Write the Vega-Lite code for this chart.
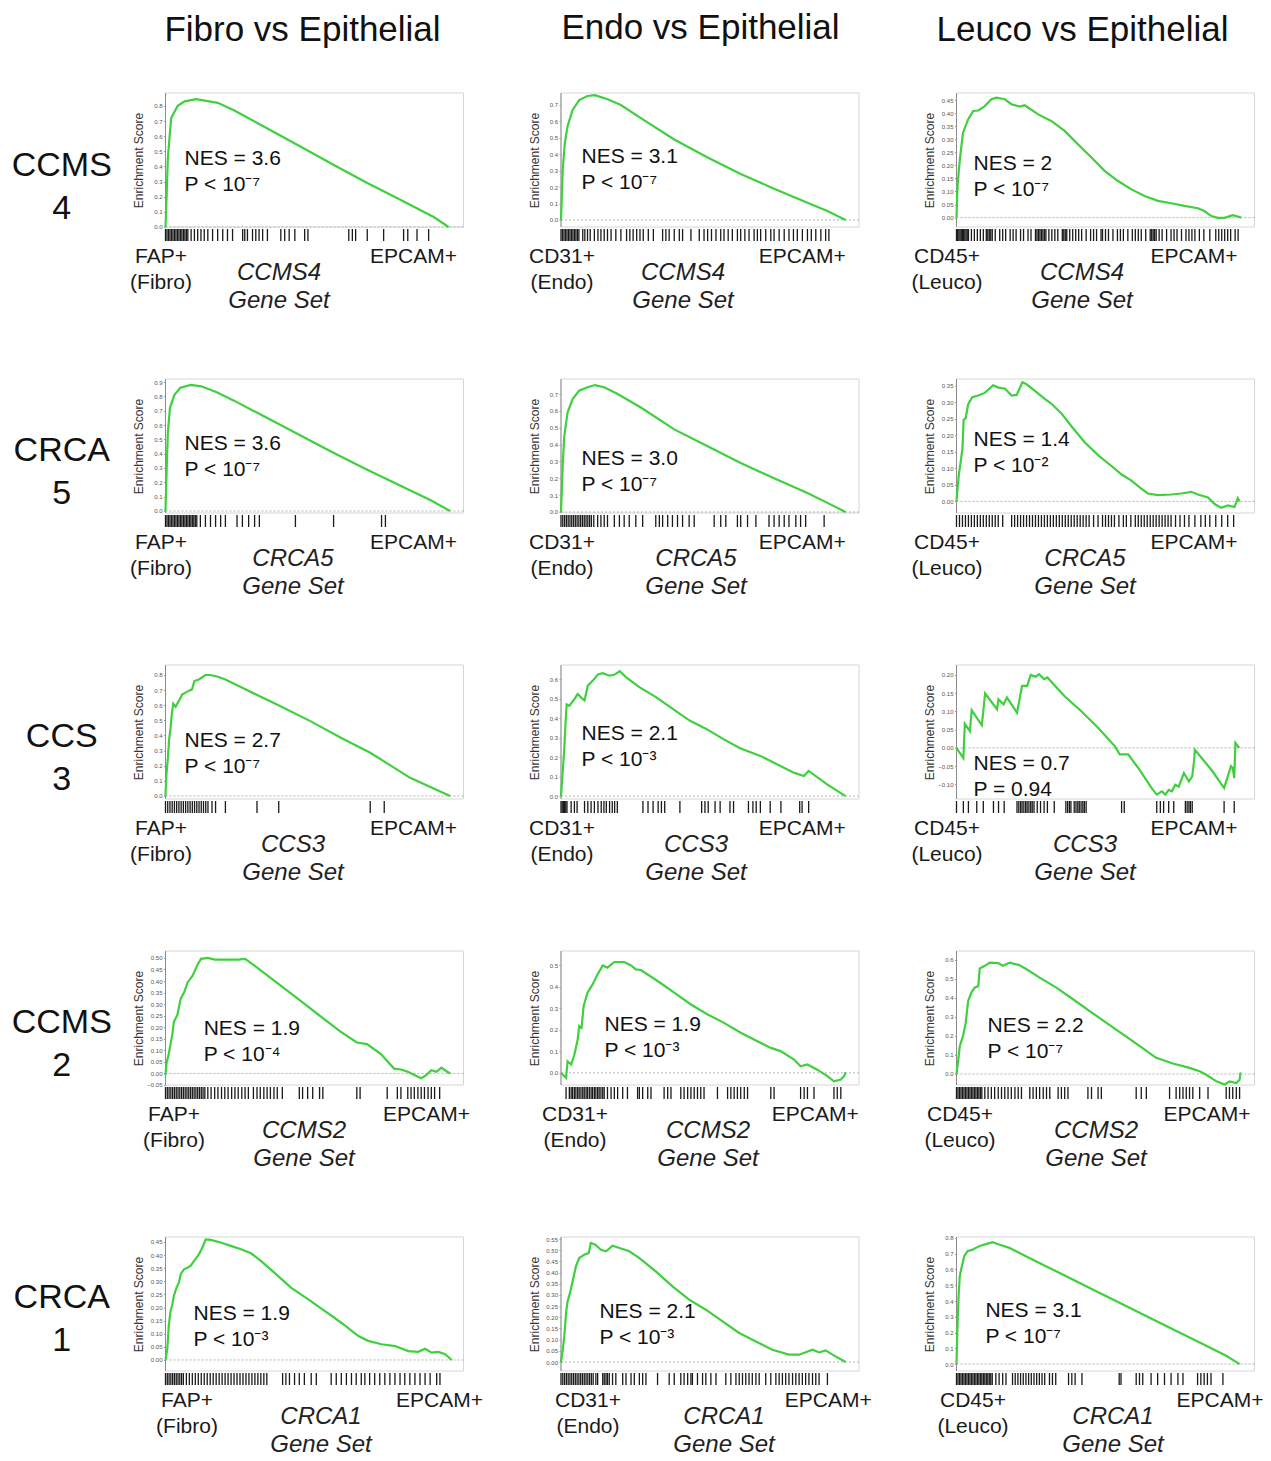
{
"$schema": "https://vega.github.io/schema/vega-lite/v6.json",
"background": "white",
"padding": {"left": 0, "top": 10, "right": 5, "bottom": 0},
"config": {
  "font": "Liberation Sans",
  "view": {"stroke": null},
  "line": {"color": "#3fcf3f", "strokeWidth": 2.2},
  "rule": {"color": "#1a1a1a", "strokeWidth": 1.3},
  "text": {"fontSize": 21, "align": "left", "baseline": "top", "lineBreak": "\n", "lineHeight": 26, "color": "#111111"},
  "axisY": {"domain": false, "labelFontSize": 6, "labelColor": "#555555", "labelOverlap": false, "tickCount": 20, "tickSize": 2, "tickColor": "#999999", "labelPadding": 1.5, "grid": false, "titleFontSize": 12, "titleFontWeight": "normal", "titleColor": "#333333", "titlePadding": 8, "titleY": 67, "minExtent": 12, "maxExtent": 12},
  "axisX": {"domain": false, "ticks": false, "grid": false, "labelFontSize": 21, "labelColor": "#1a1a1a", "labelLineHeight": 26, "labelPadding": 4, "labelBaseline": "top", "labelOverlap": false, "labelFlush": false, "labelBound": false, "titleFontSize": 24, "titleFontStyle": "italic", "titleFontWeight": "normal", "titleColor": "#222222", "titleLineHeight": 28, "titleBaseline": "top", "titleY": 19, "titleAlign": "center"}
},
"datasets": {
"c11": [{"r":0,"es":0},{"r":0.45,"es":0.25},{"r":0.8,"es":0.46},{"r":1.9,"es":0.72},{"r":4.1,"es":0.8},{"r":6.4,"es":0.83},{"r":10.3,"es":0.845},{"r":17.5,"es":0.82},{"r":23.1,"es":0.77},{"r":34.2,"es":0.65},{"r":45.4,"es":0.53},{"r":56.5,"es":0.41},{"r":67.7,"es":0.29},{"r":78.8,"es":0.18},{"r":90,"es":0.066},{"r":95,"es":0}],
"h11": [{"r":0},{"r":0.5},{"r":1},{"r":1.5},{"r":2},{"r":2.5},{"r":3},{"r":3.5},{"r":4},{"r":4.5},{"r":5},{"r":5.5},{"r":6},{"r":6.5},{"r":7},{"r":7.5},{"r":8.6},{"r":9.7},{"r":10.8},{"r":11.9},{"r":13},{"r":14.2},{"r":15.8},{"r":17.5},{"r":19.2},{"r":20.8},{"r":22.5},{"r":25.9},{"r":26.6},{"r":27.5},{"r":29.2},{"r":30.3},{"r":31.4},{"r":32.6},{"r":34.2},{"r":38.7},{"r":40},{"r":41.5},{"r":43.4},{"r":46.7},{"r":47.8},{"r":61.5},{"r":62.7},{"r":63.8},{"r":67.7},{"r":73.2},{"r":79.9},{"r":81.3},{"r":84.4},{"r":88.3}],
"c12": [{"r":0,"es":0},{"r":0.6,"es":0.31},{"r":1.3,"es":0.47},{"r":2.2,"es":0.57},{"r":3.9,"es":0.67},{"r":6.1,"es":0.73},{"r":8.9,"es":0.755},{"r":11.4,"es":0.76},{"r":15.6,"es":0.735},{"r":20.1,"es":0.7},{"r":26.8,"es":0.62},{"r":38,"es":0.49},{"r":49.2,"es":0.38},{"r":60.3,"es":0.28},{"r":71.5,"es":0.19},{"r":82.7,"es":0.105},{"r":89.4,"es":0.055},{"r":95.5,"es":0}],
"h12": [{"r":0},{"r":0.5},{"r":1},{"r":1.5},{"r":2},{"r":2.5},{"r":3},{"r":3.5},{"r":4},{"r":4.5},{"r":5},{"r":5.5},{"r":6},{"r":7.3},{"r":8},{"r":8.9},{"r":9.8},{"r":11.2},{"r":12.4},{"r":13.4},{"r":14.5},{"r":15.6},{"r":16.8},{"r":18.4},{"r":20.1},{"r":22},{"r":23.1},{"r":24.2},{"r":25.4},{"r":26.5},{"r":27.6},{"r":29.3},{"r":31},{"r":34.1},{"r":35.2},{"r":36.3},{"r":38},{"r":39.7},{"r":40.8},{"r":43.6},{"r":46.4},{"r":48},{"r":49.2},{"r":50.5},{"r":52},{"r":53.6},{"r":54.7},{"r":56.1},{"r":57.5},{"r":59.2},{"r":60.3},{"r":61.7},{"r":63.1},{"r":64.8},{"r":65.9},{"r":67},{"r":68.7},{"r":70.4},{"r":71.5},{"r":73.2},{"r":74.9},{"r":76.5},{"r":78},{"r":79.3},{"r":81},{"r":82.7},{"r":84},{"r":85.5},{"r":87.2},{"r":88.8},{"r":89.9}],
"c13": [{"r":0,"es":0},{"r":0.3,"es":0.108},{"r":0.8,"es":0.185},{"r":1.5,"es":0.26},{"r":2.2,"es":0.325},{"r":3.9,"es":0.376},{"r":5.6,"es":0.408},{"r":7.3,"es":0.41},{"r":9.5,"es":0.427},{"r":11.7,"es":0.453},{"r":13.4,"es":0.459},{"r":16.2,"es":0.453},{"r":18.4,"es":0.434},{"r":21.2,"es":0.425},{"r":22.9,"es":0.43},{"r":27.4,"es":0.395},{"r":31.8,"es":0.37},{"r":36.3,"es":0.332},{"r":40.8,"es":0.28},{"r":45.3,"es":0.23},{"r":49.7,"es":0.179},{"r":54.2,"es":0.14},{"r":58.7,"es":0.108},{"r":63.1,"es":0.083},{"r":67.6,"es":0.064},{"r":72.1,"es":0.055},{"r":76.5,"es":0.045},{"r":81,"es":0.036},{"r":83.2,"es":0.025},{"r":85.5,"es":0.006},{"r":87.7,"es":-0.001},{"r":89.9,"es":-0.001},{"r":92.7,"es":0.009},{"r":94.4,"es":0.004},{"r":95.5,"es":0}],
"h13": [{"r":0},{"r":0.4},{"r":0.8},{"r":1.2},{"r":1.6},{"r":2},{"r":2.4},{"r":2.8},{"r":3.2},{"r":3.6},{"r":4},{"r":5},{"r":6},{"r":7},{"r":8},{"r":9},{"r":10},{"r":10.5},{"r":11},{"r":11.5},{"r":12},{"r":13},{"r":14.5},{"r":15.5},{"r":16.5},{"r":18},{"r":19},{"r":20},{"r":21.5},{"r":22.5},{"r":24},{"r":25},{"r":26.5},{"r":27},{"r":27.5},{"r":28},{"r":28.5},{"r":29},{"r":29.5},{"r":30},{"r":31},{"r":32},{"r":33},{"r":34},{"r":35.5},{"r":36},{"r":36.5},{"r":37},{"r":38},{"r":39},{"r":40},{"r":41},{"r":42},{"r":43.5},{"r":45},{"r":46},{"r":47},{"r":48.5},{"r":49},{"r":50},{"r":51},{"r":52.5},{"r":54},{"r":55},{"r":56},{"r":57.5},{"r":59},{"r":60},{"r":61},{"r":62},{"r":63.5},{"r":65},{"r":65.5},{"r":66},{"r":66.5},{"r":67},{"r":68},{"r":69},{"r":70.5},{"r":72},{"r":73},{"r":74},{"r":75.5},{"r":77},{"r":78},{"r":79},{"r":80},{"r":81.5},{"r":83},{"r":85},{"r":87},{"r":88},{"r":89},{"r":90},{"r":91},{"r":92},{"r":93.5},{"r":94.5}],
"c21": [{"r":0,"es":0},{"r":0.4,"es":0.3},{"r":0.8,"es":0.55},{"r":1.5,"es":0.72},{"r":3,"es":0.81},{"r":5,"es":0.86},{"r":8.5,"es":0.88},{"r":12,"es":0.87},{"r":17,"es":0.83},{"r":23,"es":0.77},{"r":34,"es":0.65},{"r":45,"es":0.53},{"r":56,"es":0.41},{"r":67,"es":0.295},{"r":78,"es":0.185},{"r":89,"es":0.075},{"r":95.5,"es":0}],
"h21": [{"r":0},{"r":0.5},{"r":1},{"r":1.5},{"r":2},{"r":2.5},{"r":3},{"r":3.5},{"r":4},{"r":4.5},{"r":5},{"r":5.5},{"r":6},{"r":6.5},{"r":7},{"r":7.5},{"r":8},{"r":8.5},{"r":9},{"r":9.5},{"r":10},{"r":10.5},{"r":11.7},{"r":13.4},{"r":15.1},{"r":16.8},{"r":18.5},{"r":20.1},{"r":24},{"r":25.8},{"r":27.9},{"r":29.9},{"r":31.5},{"r":43.6},{"r":56.4},{"r":72.5},{"r":73.8}],
"c22": [{"r":0,"es":0},{"r":0.6,"es":0.29},{"r":1.1,"es":0.45},{"r":2.2,"es":0.59},{"r":3.9,"es":0.67},{"r":6.1,"es":0.72},{"r":8.9,"es":0.74},{"r":11.4,"es":0.753},{"r":14.5,"es":0.74},{"r":19,"es":0.7},{"r":26.8,"es":0.62},{"r":38,"es":0.49},{"r":49.2,"es":0.39},{"r":60.3,"es":0.29},{"r":71.5,"es":0.2},{"r":82.7,"es":0.113},{"r":89.4,"es":0.054},{"r":95.5,"es":0}],
"h22": [{"r":0},{"r":0.6},{"r":1.2},{"r":1.8},{"r":2.4},{"r":3},{"r":3.6},{"r":4.2},{"r":4.8},{"r":5.4},{"r":6},{"r":6.6},{"r":7.2},{"r":7.8},{"r":8.4},{"r":9},{"r":9.6},{"r":10.2},{"r":11},{"r":12.3},{"r":13.4},{"r":14.5},{"r":15.6},{"r":17.9},{"r":19.6},{"r":21.2},{"r":22.9},{"r":25.1},{"r":27.4},{"r":31.8},{"r":33},{"r":34.1},{"r":35.8},{"r":37.4},{"r":39.1},{"r":40.8},{"r":43},{"r":44.7},{"r":51.4},{"r":53.6},{"r":55.3},{"r":59.2},{"r":60.3},{"r":62.6},{"r":65.4},{"r":69.8},{"r":71.5},{"r":73.2},{"r":74.9},{"r":76.5},{"r":78.8},{"r":80.4},{"r":82.1},{"r":88.3}],
"c23": [{"r":0,"es":0},{"r":0.3,"es":0.034},{"r":0.8,"es":0.082},{"r":1.5,"es":0.126},{"r":2,"es":0.16},{"r":2.4,"es":0.247},{"r":3.1,"es":0.252},{"r":3.9,"es":0.293},{"r":5.3,"es":0.315},{"r":7.3,"es":0.32},{"r":9.5,"es":0.328},{"r":12.3,"es":0.351},{"r":14,"es":0.344},{"r":16.2,"es":0.341},{"r":18.5,"es":0.32},{"r":20.2,"es":0.322},{"r":22.1,"es":0.36},{"r":23.5,"es":0.354},{"r":26.3,"es":0.334},{"r":29.6,"es":0.31},{"r":31.8,"es":0.296},{"r":35.2,"es":0.266},{"r":38.5,"es":0.228},{"r":43,"es":0.179},{"r":47.5,"es":0.14},{"r":52,"es":0.107},{"r":55.3,"es":0.082},{"r":58.7,"es":0.063},{"r":62,"es":0.039},{"r":64.2,"es":0.024},{"r":67.6,"es":0.019},{"r":72.1,"es":0.021},{"r":75.4,"es":0.024},{"r":78.8,"es":0.029},{"r":81,"es":0.021},{"r":84.4,"es":0.012},{"r":86.6,"es":-0.008},{"r":88.8,"es":-0.019},{"r":91.1,"es":-0.012},{"r":93.3,"es":-0.017},{"r":94.4,"es":0.01},{"r":95,"es":0}],
"h23": [{"r":0},{"r":1},{"r":2},{"r":3},{"r":4},{"r":5},{"r":6},{"r":7},{"r":8},{"r":9},{"r":10},{"r":11},{"r":12},{"r":13},{"r":14},{"r":15.5},{"r":18.5},{"r":19.5},{"r":20.5},{"r":21.5},{"r":22.5},{"r":23.5},{"r":24.5},{"r":25.5},{"r":26.5},{"r":27.5},{"r":28.5},{"r":29.5},{"r":30.5},{"r":31.5},{"r":32.5},{"r":33.5},{"r":34.5},{"r":35.5},{"r":36.5},{"r":37.5},{"r":38.5},{"r":39.5},{"r":40.5},{"r":41.5},{"r":42.5},{"r":43.5},{"r":44.5},{"r":46},{"r":47.5},{"r":49},{"r":50},{"r":51},{"r":52},{"r":53},{"r":54.5},{"r":56},{"r":57},{"r":58.5},{"r":60},{"r":61},{"r":62},{"r":63},{"r":64},{"r":65},{"r":66},{"r":67},{"r":68},{"r":69},{"r":70},{"r":71},{"r":72},{"r":73.5},{"r":75},{"r":76.5},{"r":78},{"r":80},{"r":82},{"r":83.5},{"r":85},{"r":87},{"r":89},{"r":91},{"r":93}],
"c31": [{"r":0,"es":0},{"r":0.3,"es":0.14},{"r":0.8,"es":0.25},{"r":1.2,"es":0.37},{"r":1.7,"es":0.45},{"r":2.1,"es":0.54},{"r":2.6,"es":0.61},{"r":3.4,"es":0.59},{"r":4.5,"es":0.63},{"r":5.6,"es":0.67},{"r":7.3,"es":0.69},{"r":8.9,"es":0.705},{"r":9.7,"es":0.76},{"r":11.2,"es":0.77},{"r":13.4,"es":0.8},{"r":15.1,"es":0.8},{"r":17.3,"es":0.79},{"r":20.1,"es":0.77},{"r":26.3,"es":0.71},{"r":37.4,"es":0.605},{"r":48.6,"es":0.495},{"r":59.8,"es":0.375},{"r":68.7,"es":0.286},{"r":73.2,"es":0.23},{"r":82.1,"es":0.12},{"r":95.5,"es":0}],
"h31": [{"r":0},{"r":0.75},{"r":1.5},{"r":2.25},{"r":3},{"r":3.75},{"r":4.5},{"r":5.25},{"r":6},{"r":6.75},{"r":7.5},{"r":8.25},{"r":9},{"r":9.75},{"r":10.5},{"r":11.25},{"r":12},{"r":12.75},{"r":13.5},{"r":14.25},{"r":15.6},{"r":16.8},{"r":20.1},{"r":30.7},{"r":38},{"r":68.7},{"r":73.4}],
"c32": [{"r":0,"es":0},{"r":0.6,"es":0.129},{"r":1.1,"es":0.24},{"r":1.5,"es":0.37},{"r":1.9,"es":0.47},{"r":2.8,"es":0.463},{"r":4.5,"es":0.497},{"r":5.6,"es":0.523},{"r":6.7,"es":0.506},{"r":7.9,"es":0.49},{"r":9,"es":0.566},{"r":10.7,"es":0.592},{"r":12.4,"es":0.623},{"r":14,"es":0.63},{"r":16.3,"es":0.617},{"r":18,"es":0.623},{"r":19.7,"es":0.64},{"r":21.9,"es":0.609},{"r":26.4,"es":0.557},{"r":32,"es":0.506},{"r":37.6,"es":0.446},{"r":43.3,"es":0.386},{"r":48.9,"es":0.343},{"r":54.5,"es":0.292},{"r":60.1,"es":0.245},{"r":66.9,"es":0.206},{"r":71.3,"es":0.172},{"r":78.1,"es":0.12},{"r":81.5,"es":0.103},{"r":83.1,"es":0.129},{"r":89.3,"es":0.06},{"r":95.5,"es":0}],
"h32": [{"r":0},{"r":0.4},{"r":0.8},{"r":1.2},{"r":1.6},{"r":2},{"r":3.4},{"r":4.5},{"r":5.4},{"r":7.9},{"r":9},{"r":10.1},{"r":11.2},{"r":12.4},{"r":13.5},{"r":14.4},{"r":15.2},{"r":16.3},{"r":17.2},{"r":18},{"r":18.9},{"r":27.5},{"r":29.2},{"r":30.9},{"r":32.6},{"r":33.7},{"r":34.8},{"r":39.9},{"r":47.2},{"r":48.3},{"r":49.4},{"r":51.7},{"r":53.4},{"r":56.7},{"r":57.9},{"r":62.9},{"r":64.4},{"r":65.5},{"r":66.9},{"r":70.2},{"r":73.8},{"r":80.1},{"r":80.9},{"r":83.1}],
"c33": [{"r":0,"es":0},{"r":1.1,"es":-0.014},{"r":2.3,"es":-0.028},{"r":2.8,"es":0.066},{"r":4.5,"es":0.046},{"r":5.1,"es":0.103},{"r":8.5,"es":0.062},{"r":9.6,"es":0.149},{"r":13.6,"es":0.106},{"r":14.1,"es":0.133},{"r":15.8,"es":0.119},{"r":16.9,"es":0.138},{"r":19.2,"es":0.11},{"r":20.3,"es":0.096},{"r":22,"es":0.17},{"r":23.7,"es":0.17},{"r":24.9,"es":0.2},{"r":26.6,"es":0.195},{"r":27.7,"es":0.202},{"r":29.4,"es":0.188},{"r":30.5,"es":0.193},{"r":36.2,"es":0.142},{"r":41.8,"es":0.101},{"r":47.5,"es":0.055},{"r":53.1,"es":0.005},{"r":54.8,"es":-0.018},{"r":57.6,"es":-0.018},{"r":61,"es":-0.055},{"r":65.5,"es":-0.11},{"r":67.2,"es":-0.128},{"r":68.9,"es":-0.119},{"r":70.1,"es":-0.128},{"r":71.2,"es":-0.115},{"r":72.3,"es":-0.119},{"r":73.4,"es":-0.101},{"r":74.6,"es":-0.106},{"r":76.3,"es":-0.069},{"r":78,"es":-0.092},{"r":79.1,"es":-0.078},{"r":79.7,"es":-0.037},{"r":80,"es":-0.005},{"r":85.9,"es":-0.064},{"r":89.8,"es":-0.11},{"r":92.1,"es":-0.05},{"r":92.7,"es":-0.055},{"r":93.2,"es":-0.083},{"r":93.6,"es":0.014},{"r":94.9,"es":0}],
"h33": [{"r":0},{"r":2.3},{"r":4},{"r":6.8},{"r":9},{"r":12.4},{"r":14.1},{"r":16},{"r":20.3},{"r":20.9},{"r":21.5},{"r":22},{"r":22.6},{"r":23.2},{"r":23.7},{"r":24.3},{"r":24.9},{"r":25.4},{"r":26},{"r":27.1},{"r":28.2},{"r":29.4},{"r":30.5},{"r":32.8},{"r":36.7},{"r":37.3},{"r":37.9},{"r":38.4},{"r":39.5},{"r":40.1},{"r":40.7},{"r":41.2},{"r":41.8},{"r":42.4},{"r":42.9},{"r":43.5},{"r":55.4},{"r":56.3},{"r":67.2},{"r":68.4},{"r":69.5},{"r":71.2},{"r":72.9},{"r":76.8},{"r":77.4},{"r":78},{"r":78.5},{"r":79.1},{"r":89.8},{"r":93.2}],
"c41": [{"r":0,"es":-0.007},{"r":0.3,"es":0.042},{"r":1.1,"es":0.085},{"r":1.7,"es":0.127},{"r":2.3,"es":0.169},{"r":2.8,"es":0.223},{"r":4,"es":0.254},{"r":5.1,"es":0.324},{"r":6.3,"es":0.352},{"r":7.4,"es":0.394},{"r":9.1,"es":0.423},{"r":10.8,"es":0.472},{"r":11.9,"es":0.496},{"r":14.2,"es":0.5},{"r":16.5,"es":0.493},{"r":19.9,"es":0.493},{"r":24.4,"es":0.493},{"r":26.7,"es":0.496},{"r":30.1,"es":0.465},{"r":35.8,"es":0.408},{"r":41.5,"es":0.352},{"r":47.2,"es":0.296},{"r":52.8,"es":0.239},{"r":58.5,"es":0.183},{"r":64.2,"es":0.134},{"r":67.6,"es":0.127},{"r":72.2,"es":0.085},{"r":76.7,"es":0.021},{"r":79,"es":0.017},{"r":81.3,"es":0.007},{"r":83.5,"es":-0.007},{"r":85.8,"es":-0.021},{"r":87.5,"es":-0.007},{"r":89.2,"es":0.014},{"r":90.9,"es":0.007},{"r":92.6,"es":0.025},{"r":93.8,"es":0.014},{"r":95.5,"es":0}],
"h41": [{"r":0},{"r":0.6},{"r":1.2},{"r":1.8},{"r":2.4},{"r":3},{"r":3.6},{"r":4.2},{"r":4.8},{"r":5.4},{"r":6},{"r":6.6},{"r":7.2},{"r":7.8},{"r":8.4},{"r":9},{"r":9.6},{"r":10.2},{"r":10.8},{"r":11.4},{"r":12},{"r":12.6},{"r":13.2},{"r":14.2},{"r":15.3},{"r":16.5},{"r":17.6},{"r":18.8},{"r":19.9},{"r":21},{"r":22.2},{"r":23.3},{"r":24.4},{"r":25.6},{"r":26.7},{"r":27.8},{"r":29.5},{"r":30.7},{"r":31.8},{"r":33},{"r":34.1},{"r":35.2},{"r":36.4},{"r":37.5},{"r":39.2},{"r":44.9},{"r":46},{"r":47.7},{"r":49.4},{"r":51.7},{"r":52.8},{"r":64.2},{"r":65.3},{"r":74.4},{"r":77.8},{"r":79},{"r":81.3},{"r":82.4},{"r":83.5},{"r":84.7},{"r":85.8},{"r":86.9},{"r":88.1},{"r":89.2},{"r":90.3},{"r":92}],
"c42": [{"r":0,"es":0},{"r":1.7,"es":-0.023},{"r":2.2,"es":0.054},{"r":3.4,"es":0.039},{"r":4.5,"es":0.085},{"r":5.6,"es":0.155},{"r":6.1,"es":0.217},{"r":6.9,"es":0.209},{"r":7.6,"es":0.31},{"r":8.9,"es":0.372},{"r":10.6,"es":0.41},{"r":12.3,"es":0.457},{"r":14,"es":0.498},{"r":15.6,"es":0.488},{"r":17.9,"es":0.514},{"r":21.2,"es":0.514},{"r":23.5,"es":0.498},{"r":25.1,"es":0.48},{"r":26.8,"es":0.477},{"r":32.4,"es":0.426},{"r":38,"es":0.372},{"r":43.6,"es":0.317},{"r":49.2,"es":0.271},{"r":54.7,"es":0.232},{"r":60.3,"es":0.186},{"r":65.9,"es":0.147},{"r":70.4,"es":0.116},{"r":73.7,"es":0.101},{"r":78.2,"es":0.062},{"r":80.4,"es":0.031},{"r":82.7,"es":0.039},{"r":86,"es":0.015},{"r":89.4,"es":-0.015},{"r":91.6,"es":-0.039},{"r":93.9,"es":-0.031},{"r":95,"es":-0.015},{"r":95.5,"es":0.003}],
"h42": [{"r":1.7},{"r":2.8},{"r":3.4},{"r":3.9},{"r":4.5},{"r":5},{"r":5.6},{"r":6.1},{"r":6.7},{"r":7.3},{"r":7.8},{"r":8.4},{"r":8.9},{"r":9.5},{"r":10.1},{"r":10.6},{"r":11.2},{"r":11.7},{"r":12.3},{"r":12.8},{"r":13.4},{"r":14},{"r":14.5},{"r":15.6},{"r":16.8},{"r":17.9},{"r":19},{"r":20.7},{"r":22.3},{"r":25.7},{"r":26.3},{"r":27.4},{"r":29.1},{"r":30.2},{"r":34.6},{"r":35.8},{"r":36.9},{"r":40.2},{"r":41.3},{"r":42.5},{"r":43.6},{"r":44.7},{"r":45.8},{"r":46.9},{"r":48},{"r":52.5},{"r":55.9},{"r":57},{"r":58.1},{"r":59.2},{"r":60.3},{"r":61.5},{"r":62.6},{"r":70.4},{"r":71.5},{"r":80.4},{"r":81.6},{"r":82.7},{"r":84.9},{"r":91.6},{"r":92.7},{"r":93.9}],
"c43": [{"r":0,"es":0},{"r":0.6,"es":0.076},{"r":1.1,"es":0.146},{"r":2.2,"es":0.2},{"r":3.1,"es":0.27},{"r":3.9,"es":0.384},{"r":5,"es":0.428},{"r":6.1,"es":0.454},{"r":7.3,"es":0.463},{"r":7.8,"es":0.555},{"r":9.5,"es":0.569},{"r":11.2,"es":0.586},{"r":14,"es":0.583},{"r":15.6,"es":0.569},{"r":17.9,"es":0.586},{"r":21.2,"es":0.572},{"r":23.5,"es":0.551},{"r":27.9,"es":0.507},{"r":33.5,"es":0.454},{"r":39.1,"es":0.393},{"r":44.7,"es":0.331},{"r":50.3,"es":0.269},{"r":55.9,"es":0.208},{"r":61.5,"es":0.146},{"r":67,"es":0.085},{"r":72.6,"es":0.055},{"r":78.2,"es":0.032},{"r":81.6,"es":0.014},{"r":83.8,"es":-0.004},{"r":87.2,"es":-0.039},{"r":90,"es":-0.055},{"r":91.6,"es":-0.039},{"r":93.9,"es":-0.048},{"r":95,"es":-0.03},{"r":95.3,"es":0.009}],
"h43": [{"r":0},{"r":0.5},{"r":1},{"r":1.5},{"r":2},{"r":2.5},{"r":3},{"r":3.5},{"r":4},{"r":4.5},{"r":5},{"r":5.5},{"r":6},{"r":6.5},{"r":7},{"r":7.5},{"r":8},{"r":8.5},{"r":9.5},{"r":10.6},{"r":11.7},{"r":12.8},{"r":14},{"r":15.1},{"r":16.2},{"r":17.3},{"r":18.4},{"r":19.6},{"r":20.7},{"r":21.8},{"r":24.6},{"r":25.7},{"r":26.8},{"r":27.9},{"r":29.1},{"r":30.2},{"r":31.3},{"r":34.1},{"r":35.2},{"r":36.3},{"r":37.4},{"r":44.1},{"r":45.3},{"r":47.5},{"r":48.6},{"r":60.3},{"r":62},{"r":63.7},{"r":71.5},{"r":73.7},{"r":74.9},{"r":76},{"r":77.1},{"r":78.2},{"r":79.3},{"r":81.6},{"r":84.4},{"r":90.5},{"r":91.6},{"r":92.7},{"r":93.9},{"r":95}],
"c51": [{"r":0,"es":0},{"r":0.6,"es":0.041},{"r":1.1,"es":0.13},{"r":1.7,"es":0.187},{"r":2.2,"es":0.206},{"r":2.8,"es":0.244},{"r":3.7,"es":0.276},{"r":4.5,"es":0.295},{"r":5.1,"es":0.327},{"r":6.2,"es":0.346},{"r":7.3,"es":0.352},{"r":8.4,"es":0.359},{"r":9.6,"es":0.378},{"r":11.2,"es":0.403},{"r":12.4,"es":0.429},{"r":13.5,"es":0.46},{"r":15.2,"es":0.458},{"r":18.5,"es":0.448},{"r":21.9,"es":0.435},{"r":25.3,"es":0.422},{"r":28.7,"es":0.407},{"r":32,"es":0.378},{"r":36.5,"es":0.333},{"r":42.1,"es":0.276},{"r":47.8,"es":0.232},{"r":53.4,"es":0.187},{"r":59,"es":0.142},{"r":64.6,"es":0.092},{"r":68,"es":0.073},{"r":72.5,"es":0.06},{"r":77,"es":0.053},{"r":81.5,"es":0.034},{"r":84.8,"es":0.031},{"r":87.1,"es":0.043},{"r":89.3,"es":0.028},{"r":91.6,"es":0.031},{"r":93.8,"es":0.022},{"r":96.1,"es":0}],
"h51": [{"r":0},{"r":0.6},{"r":1.2},{"r":1.8},{"r":2.4},{"r":3},{"r":3.6},{"r":4.2},{"r":4.8},{"r":5.4},{"r":6},{"r":7},{"r":8},{"r":9},{"r":10},{"r":11},{"r":12},{"r":13},{"r":14},{"r":15},{"r":16},{"r":17},{"r":18},{"r":19},{"r":20},{"r":21},{"r":22},{"r":23},{"r":24},{"r":25},{"r":26},{"r":27},{"r":28},{"r":29},{"r":30},{"r":31},{"r":32},{"r":33},{"r":34},{"r":39.3},{"r":40.4},{"r":41.6},{"r":43.3},{"r":44.9},{"r":46.6},{"r":48.9},{"r":50.6},{"r":55.6},{"r":57.3},{"r":59},{"r":60.7},{"r":62.4},{"r":64},{"r":65.7},{"r":66.9},{"r":68.5},{"r":70.2},{"r":71.9},{"r":73.6},{"r":75.3},{"r":77},{"r":78.7},{"r":80.3},{"r":82},{"r":83.7},{"r":85.4},{"r":87.1},{"r":88.8},{"r":91},{"r":92.1}],
"c52": [{"r":0,"es":0},{"r":0.6,"es":0.055},{"r":1.1,"es":0.115},{"r":1.7,"es":0.219},{"r":2.2,"es":0.271},{"r":3,"es":0.308},{"r":3.9,"es":0.36},{"r":5,"es":0.428},{"r":6.1,"es":0.465},{"r":7.8,"es":0.48},{"r":9.3,"es":0.487},{"r":10,"es":0.532},{"r":11.5,"es":0.525},{"r":13.4,"es":0.502},{"r":15.1,"es":0.495},{"r":17.3,"es":0.52},{"r":19.6,"es":0.51},{"r":22.9,"es":0.495},{"r":26.3,"es":0.465},{"r":31.8,"es":0.405},{"r":37.4,"es":0.338},{"r":43,"es":0.279},{"r":48.6,"es":0.234},{"r":54.2,"es":0.182},{"r":59.8,"es":0.13},{"r":65.4,"es":0.092},{"r":70.9,"es":0.055},{"r":76.5,"es":0.033},{"r":79.9,"es":0.033},{"r":84.4,"es":0.055},{"r":86.6,"es":0.043},{"r":88.8,"es":0.052},{"r":91.1,"es":0.033},{"r":95.5,"es":0}],
"h52": [{"r":0},{"r":0.6},{"r":1.2},{"r":1.8},{"r":2.4},{"r":3},{"r":3.6},{"r":4.2},{"r":4.8},{"r":5.4},{"r":6},{"r":6.6},{"r":7.2},{"r":7.8},{"r":8.4},{"r":9},{"r":9.6},{"r":10.2},{"r":10.8},{"r":11.7},{"r":12.3},{"r":14},{"r":14.5},{"r":15.1},{"r":15.6},{"r":16.2},{"r":17.3},{"r":18.4},{"r":20.7},{"r":21.8},{"r":23.5},{"r":24.6},{"r":26.3},{"r":27.4},{"r":28.5},{"r":32.4},{"r":36.3},{"r":38},{"r":40.2},{"r":41.3},{"r":42.5},{"r":43.6},{"r":44.1},{"r":45.8},{"r":47.5},{"r":48.6},{"r":50.3},{"r":52},{"r":55.3},{"r":57},{"r":58.7},{"r":59.8},{"r":60.9},{"r":62},{"r":63.1},{"r":64.2},{"r":65.4},{"r":66.5},{"r":68.7},{"r":70.4},{"r":72.1},{"r":73.2},{"r":74.3},{"r":75.4},{"r":76.5},{"r":77.7},{"r":78.8},{"r":79.9},{"r":81},{"r":82.1},{"r":83.2},{"r":84.4},{"r":85.5},{"r":86.6},{"r":89.4}],
"c53": [{"r":0,"es":0},{"r":0.3,"es":0.221},{"r":0.7,"es":0.432},{"r":1.1,"es":0.558},{"r":1.8,"es":0.621},{"r":2.6,"es":0.684},{"r":3.7,"es":0.716},{"r":5.4,"es":0.726},{"r":6.5,"es":0.737},{"r":7.6,"es":0.747},{"r":9.3,"es":0.758},{"r":12.1,"es":0.773},{"r":14.3,"es":0.758},{"r":17.7,"es":0.737},{"r":23.3,"es":0.684},{"r":30,"es":0.621},{"r":39,"es":0.537},{"r":47.9,"es":0.453},{"r":56.9,"es":0.368},{"r":65.8,"es":0.284},{"r":74.8,"es":0.2},{"r":83.8,"es":0.116},{"r":90.5,"es":0.053},{"r":95,"es":0}],
"h53": [{"r":0},{"r":0.5},{"r":1},{"r":1.5},{"r":2},{"r":2.5},{"r":3},{"r":3.5},{"r":4},{"r":4.5},{"r":5},{"r":5.5},{"r":6},{"r":6.5},{"r":7},{"r":7.5},{"r":8},{"r":8.5},{"r":9},{"r":9.5},{"r":10},{"r":10.5},{"r":11},{"r":11.5},{"r":12},{"r":13.2},{"r":14.3},{"r":15.5},{"r":16.6},{"r":18.8},{"r":19.7},{"r":20.6},{"r":21.5},{"r":22.4},{"r":23.3},{"r":24.2},{"r":25.1},{"r":26},{"r":26.9},{"r":27.8},{"r":28.7},{"r":29.6},{"r":31.2},{"r":32.2},{"r":33.3},{"r":37.6},{"r":38.7},{"r":39.8},{"r":42.1},{"r":54.6},{"r":55.2},{"r":60.3},{"r":61.4},{"r":62.5},{"r":65.3},{"r":67.5},{"r":69.8},{"r":72},{"r":74.3},{"r":76},{"r":80.9},{"r":82},{"r":83.1},{"r":84.2},{"r":85.4},{"r":89.4}]
},
"columns": 4,
"spacing": {"row": 138, "column": 97.5},
"bounds": "flush",
"concat": [
{"width": 67.5, "height": 148, "data": {"values": [{"t": "CCMS\n4"}]}, "mark": {"type": "text", "fontSize": 34, "lineHeight": 43, "align": "center", "baseline": "middle", "dx": 28, "dy": -1}, "encoding": {"text": {"field": "t"}}},
{"width": 298, "height": 148, "title": {"text": "Fibro vs Epithelial", "fontSize": 35, "fontWeight": "normal", "anchor": "middle", "frame": "group", "offset": 45, "dx": -12, "color": "#111111"}, "layer": [
  {"data": {"values": [{}]}, "mark": {"type": "rect", "fill": "transparent", "stroke": "#d6d6d6", "strokeWidth": 1}, "encoding": {"x": {"datum": 0}, "x2": {"datum": 100}, "y": {"datum": 0}, "y2": {"datum": 0.885}}},
  {"data": {"values": [{}]}, "mark": {"type": "rule", "color": "#b3b3b3", "strokeWidth": 1, "strokeDash": [2, 2]}, "encoding": {"y": {"datum": 0}}},
  {"data": {"values": [{}]}, "mark": {"type": "rule", "color": "#8c8c8c", "strokeWidth": 1}, "encoding": {"x": {"datum": 0}, "y": {"datum": 0}, "y2": {"datum": 0.885}}},
  {"data": {"name": "h11"}, "mark": "rule", "encoding": {"x": {"field": "r", "type": "quantitative"}, "y": {"datum": -0.0132}, "y2": {"datum": -0.0925}}},
  {"data": {"name": "c11"}, "mark": "line", "encoding": {"x": {"field": "r", "type": "quantitative", "scale": {"domain": [0, 100], "nice": false}, "axis": {"values": [0, 99.3], "labelExpr": "datum.value < 50 ? ['FAP+', '(Fibro)'] : 'EPCAM+'", "labelAlign": {"condition": {"test": "datum.value < 50", "value": "center"}, "value": "right"}, "labelOffset": -5, "title": ["CCMS4", "Gene Set"], "titleX": 113}}, "y": {"field": "es", "type": "quantitative", "scale": {"domain": [-0.0925, 0.885], "nice": false, "zero": false}, "axis": {"title": "Enrichment Score", "tickCount": 20, "values": [0, 0.1, 0.2, 0.3, 0.4, 0.5, 0.6, 0.7, 0.8], "format": ".1f"}}}},
  {"data": {"values": [{"t": "NES = 3.6\nP < 10⁻⁷"}]}, "mark": "text", "encoding": {"text": {"field": "t"}, "x": {"datum": 6.4}, "y": {"datum": 0.522}}}
]},
{"width": 298, "height": 148, "title": {"text": "Endo vs Epithelial", "fontSize": 35, "fontWeight": "normal", "anchor": "middle", "frame": "group", "offset": 45, "dx": -9.5, "color": "#111111"}, "layer": [
  {"data": {"values": [{}]}, "mark": {"type": "rect", "fill": "transparent", "stroke": "#d6d6d6", "strokeWidth": 1}, "encoding": {"x": {"datum": 0}, "x2": {"datum": 100}, "y": {"datum": -0.043}, "y2": {"datum": 0.773}}},
  {"data": {"values": [{}]}, "mark": {"type": "rule", "color": "#b3b3b3", "strokeWidth": 1, "strokeDash": [2, 2]}, "encoding": {"y": {"datum": 0}}},
  {"data": {"values": [{}]}, "mark": {"type": "rule", "color": "#8c8c8c", "strokeWidth": 1}, "encoding": {"x": {"datum": 0}, "y": {"datum": -0.043}, "y2": {"datum": 0.773}}},
  {"data": {"name": "h12"}, "mark": "rule", "encoding": {"x": {"field": "r", "type": "quantitative"}, "y": {"datum": -0.0552}, "y2": {"datum": -0.1283}}},
  {"data": {"name": "c12"}, "mark": "line", "encoding": {"x": {"field": "r", "type": "quantitative", "scale": {"domain": [0, 100], "nice": false}, "axis": {"values": [0, 95.2], "labelExpr": "datum.value < 50 ? ['CD31+', '(Endo)'] : 'EPCAM+'", "labelAlign": {"condition": {"test": "datum.value < 50", "value": "center"}, "value": "right"}, "labelOffset": 0.5, "title": ["CCMS4", "Gene Set"], "titleX": 121.5}}, "y": {"field": "es", "type": "quantitative", "scale": {"domain": [-0.1283, 0.773], "nice": false, "zero": false}, "axis": {"title": "Enrichment Score", "tickCount": 20, "values": [0, 0.1, 0.2, 0.3, 0.4, 0.5, 0.6, 0.7], "format": ".1f"}}}},
  {"data": {"values": [{"t": "NES = 3.1\nP < 10⁻⁷"}]}, "mark": "text", "encoding": {"text": {"field": "t"}, "x": {"datum": 6.9}, "y": {"datum": 0.45}}}
]},
{"width": 298, "height": 148, "title": {"text": "Leuco vs Epithelial", "fontSize": 35, "fontWeight": "normal", "anchor": "middle", "frame": "group", "offset": 45, "dx": -23, "color": "#111111"}, "layer": [
  {"data": {"values": [{}]}, "mark": {"type": "rect", "fill": "transparent", "stroke": "#d6d6d6", "strokeWidth": 1}, "encoding": {"x": {"datum": 0}, "x2": {"datum": 100}, "y": {"datum": -0.036}, "y2": {"datum": 0.477}}},
  {"data": {"values": [{}]}, "mark": {"type": "rule", "color": "#b3b3b3", "strokeWidth": 1, "strokeDash": [2, 2]}, "encoding": {"y": {"datum": 0}}},
  {"data": {"values": [{}]}, "mark": {"type": "rule", "color": "#8c8c8c", "strokeWidth": 1}, "encoding": {"x": {"datum": 0}, "y": {"datum": -0.036}, "y2": {"datum": 0.477}}},
  {"data": {"name": "h13"}, "mark": "rule", "encoding": {"x": {"field": "r", "type": "quantitative"}, "y": {"datum": -0.0437}, "y2": {"datum": -0.0896}}},
  {"data": {"name": "c13"}, "mark": "line", "encoding": {"x": {"field": "r", "type": "quantitative", "scale": {"domain": [0, 100], "nice": false}, "axis": {"values": [0, 97.5], "labelExpr": "datum.value < 50 ? ['CD45+', '(Leuco)'] : 'EPCAM+'", "labelAlign": {"condition": {"test": "datum.value < 50", "value": "center"}, "value": "right"}, "labelOffset": -10, "title": ["CCMS4", "Gene Set"], "titleX": 125}}, "y": {"field": "es", "type": "quantitative", "scale": {"domain": [-0.0896, 0.477], "nice": false, "zero": false}, "axis": {"title": "Enrichment Score", "tickCount": 20, "values": [0, 0.05, 0.1, 0.15, 0.2, 0.25, 0.3, 0.35, 0.4, 0.45], "format": ".2f"}}}},
  {"data": {"values": [{"t": "NES = 2\nP < 10⁻⁷"}]}, "mark": "text", "encoding": {"text": {"field": "t"}, "x": {"datum": 5.7}, "y": {"datum": 0.247}}}
]},
{"width": 67.5, "height": 148, "data": {"values": [{"t": "CRCA\n5"}]}, "mark": {"type": "text", "fontSize": 34, "lineHeight": 43, "align": "center", "baseline": "middle", "dx": 28, "dy": -2}, "encoding": {"text": {"field": "t"}}},
{"width": 298, "height": 148, "layer": [
  {"data": {"values": [{}]}, "mark": {"type": "rect", "fill": "transparent", "stroke": "#d6d6d6", "strokeWidth": 1}, "encoding": {"x": {"datum": 0}, "x2": {"datum": 100}, "y": {"datum": -0.014}, "y2": {"datum": 0.921}}},
  {"data": {"values": [{}]}, "mark": {"type": "rule", "color": "#b3b3b3", "strokeWidth": 1, "strokeDash": [2, 2]}, "encoding": {"y": {"datum": 0}}},
  {"data": {"values": [{}]}, "mark": {"type": "rule", "color": "#8c8c8c", "strokeWidth": 1}, "encoding": {"x": {"datum": 0}, "y": {"datum": -0.014}, "y2": {"datum": 0.921}}},
  {"data": {"name": "h21"}, "mark": "rule", "encoding": {"x": {"field": "r", "type": "quantitative"}, "y": {"datum": -0.028}, "y2": {"datum": -0.1117}}},
  {"data": {"name": "c21"}, "mark": "line", "encoding": {"x": {"field": "r", "type": "quantitative", "scale": {"domain": [0, 100], "nice": false}, "axis": {"values": [0, 99.3], "labelExpr": "datum.value < 50 ? ['FAP+', '(Fibro)'] : 'EPCAM+'", "labelAlign": {"condition": {"test": "datum.value < 50", "value": "center"}, "value": "right"}, "labelOffset": -5, "title": ["CRCA5", "Gene Set"], "titleX": 127}}, "y": {"field": "es", "type": "quantitative", "scale": {"domain": [-0.1117, 0.921], "nice": false, "zero": false}, "axis": {"title": "Enrichment Score", "tickCount": 20, "values": [0, 0.1, 0.2, 0.3, 0.4, 0.5, 0.6, 0.7, 0.8, 0.9], "format": ".1f"}}}},
  {"data": {"values": [{"t": "NES = 3.6\nP < 10⁻⁷"}]}, "mark": "text", "encoding": {"text": {"field": "t"}, "x": {"datum": 6.4}, "y": {"datum": 0.544}}}
]},
{"width": 298, "height": 148, "layer": [
  {"data": {"values": [{}]}, "mark": {"type": "rect", "fill": "transparent", "stroke": "#d6d6d6", "strokeWidth": 1}, "encoding": {"x": {"datum": 0}, "x2": {"datum": 100}, "y": {"datum": -0.006}, "y2": {"datum": 0.789}}},
  {"data": {"values": [{}]}, "mark": {"type": "rule", "color": "#b3b3b3", "strokeWidth": 1, "strokeDash": [2, 2]}, "encoding": {"y": {"datum": 0}}},
  {"data": {"values": [{}]}, "mark": {"type": "rule", "color": "#8c8c8c", "strokeWidth": 1}, "encoding": {"x": {"datum": 0}, "y": {"datum": -0.006}, "y2": {"datum": 0.789}}},
  {"data": {"name": "h22"}, "mark": "rule", "encoding": {"x": {"field": "r", "type": "quantitative"}, "y": {"datum": -0.0179}, "y2": {"datum": -0.0891}}},
  {"data": {"name": "c22"}, "mark": "line", "encoding": {"x": {"field": "r", "type": "quantitative", "scale": {"domain": [0, 100], "nice": false}, "axis": {"values": [0, 95.2], "labelExpr": "datum.value < 50 ? ['CD31+', '(Endo)'] : 'EPCAM+'", "labelAlign": {"condition": {"test": "datum.value < 50", "value": "center"}, "value": "right"}, "labelOffset": 0.5, "title": ["CRCA5", "Gene Set"], "titleX": 134.5}}, "y": {"field": "es", "type": "quantitative", "scale": {"domain": [-0.0891, 0.789], "nice": false, "zero": false}, "axis": {"title": "Enrichment Score", "tickCount": 20, "values": [0, 0.1, 0.2, 0.3, 0.4, 0.5, 0.6, 0.7], "format": ".1f"}}}},
  {"data": {"values": [{"t": "NES = 3.0\nP < 10⁻⁷"}]}, "mark": "text", "encoding": {"text": {"field": "t"}, "x": {"datum": 6.9}, "y": {"datum": 0.38}}}
]},
{"width": 298, "height": 148, "layer": [
  {"data": {"values": [{}]}, "mark": {"type": "rect", "fill": "transparent", "stroke": "#d6d6d6", "strokeWidth": 1}, "encoding": {"x": {"datum": 0}, "x2": {"datum": 100}, "y": {"datum": -0.035}, "y2": {"datum": 0.37}}},
  {"data": {"values": [{}]}, "mark": {"type": "rule", "color": "#b3b3b3", "strokeWidth": 1, "strokeDash": [2, 2]}, "encoding": {"y": {"datum": 0}}},
  {"data": {"values": [{}]}, "mark": {"type": "rule", "color": "#8c8c8c", "strokeWidth": 1}, "encoding": {"x": {"datum": 0}, "y": {"datum": -0.035}, "y2": {"datum": 0.37}}},
  {"data": {"name": "h23"}, "mark": "rule", "encoding": {"x": {"field": "r", "type": "quantitative"}, "y": {"datum": -0.041}, "y2": {"datum": -0.0773}}},
  {"data": {"name": "c23"}, "mark": "line", "encoding": {"x": {"field": "r", "type": "quantitative", "scale": {"domain": [0, 100], "nice": false}, "axis": {"values": [0, 97.5], "labelExpr": "datum.value < 50 ? ['CD45+', '(Leuco)'] : 'EPCAM+'", "labelAlign": {"condition": {"test": "datum.value < 50", "value": "center"}, "value": "right"}, "labelOffset": -10, "title": ["CRCA5", "Gene Set"], "titleX": 128}}, "y": {"field": "es", "type": "quantitative", "scale": {"domain": [-0.0773, 0.37], "nice": false, "zero": false}, "axis": {"title": "Enrichment Score", "tickCount": 20, "values": [0, 0.05, 0.1, 0.15, 0.2, 0.25, 0.3, 0.35], "format": ".2f"}}}},
  {"data": {"values": [{"t": "NES = 1.4\nP < 10⁻²"}]}, "mark": "text", "encoding": {"text": {"field": "t"}, "x": {"datum": 5.7}, "y": {"datum": 0.219}}}
]},
{"width": 67.5, "height": 148, "data": {"values": [{"t": "CCS\n3"}]}, "mark": {"type": "text", "fontSize": 34, "lineHeight": 43, "align": "center", "baseline": "middle", "dx": 28, "dy": -2}, "encoding": {"text": {"field": "t"}}},
{"width": 298, "height": 148, "layer": [
  {"data": {"values": [{}]}, "mark": {"type": "rect", "fill": "transparent", "stroke": "#d6d6d6", "strokeWidth": 1}, "encoding": {"x": {"datum": 0}, "x2": {"datum": 100}, "y": {"datum": -0.02}, "y2": {"datum": 0.866}}},
  {"data": {"values": [{}]}, "mark": {"type": "rule", "color": "#b3b3b3", "strokeWidth": 1, "strokeDash": [2, 2]}, "encoding": {"y": {"datum": 0}}},
  {"data": {"values": [{}]}, "mark": {"type": "rule", "color": "#8c8c8c", "strokeWidth": 1}, "encoding": {"x": {"datum": 0}, "y": {"datum": -0.02}, "y2": {"datum": 0.866}}},
  {"data": {"name": "h31"}, "mark": "rule", "encoding": {"x": {"field": "r", "type": "quantitative"}, "y": {"datum": -0.0332}, "y2": {"datum": -0.1126}}},
  {"data": {"name": "c31"}, "mark": "line", "encoding": {"x": {"field": "r", "type": "quantitative", "scale": {"domain": [0, 100], "nice": false}, "axis": {"values": [0, 99.3], "labelExpr": "datum.value < 50 ? ['FAP+', '(Fibro)'] : 'EPCAM+'", "labelAlign": {"condition": {"test": "datum.value < 50", "value": "center"}, "value": "right"}, "labelOffset": -5, "title": ["CCS3", "Gene Set"], "titleX": 127}}, "y": {"field": "es", "type": "quantitative", "scale": {"domain": [-0.1126, 0.866], "nice": false, "zero": false}, "axis": {"title": "Enrichment Score", "tickCount": 20, "values": [0, 0.1, 0.2, 0.3, 0.4, 0.5, 0.6, 0.7, 0.8], "format": ".1f"}}}},
  {"data": {"values": [{"t": "NES = 2.7\nP < 10⁻⁷"}]}, "mark": "text", "encoding": {"text": {"field": "t"}, "x": {"datum": 6.4}, "y": {"datum": 0.436}}}
]},
{"width": 298, "height": 148, "layer": [
  {"data": {"values": [{}]}, "mark": {"type": "rect", "fill": "transparent", "stroke": "#d6d6d6", "strokeWidth": 1}, "encoding": {"x": {"datum": 0}, "x2": {"datum": 100}, "y": {"datum": -0.015}, "y2": {"datum": 0.672}}},
  {"data": {"values": [{}]}, "mark": {"type": "rule", "color": "#b3b3b3", "strokeWidth": 1, "strokeDash": [2, 2]}, "encoding": {"y": {"datum": 0}}},
  {"data": {"values": [{}]}, "mark": {"type": "rule", "color": "#8c8c8c", "strokeWidth": 1}, "encoding": {"x": {"datum": 0}, "y": {"datum": -0.015}, "y2": {"datum": 0.672}}},
  {"data": {"name": "h32"}, "mark": "rule", "encoding": {"x": {"field": "r", "type": "quantitative"}, "y": {"datum": -0.0253}, "y2": {"datum": -0.0868}}},
  {"data": {"name": "c32"}, "mark": "line", "encoding": {"x": {"field": "r", "type": "quantitative", "scale": {"domain": [0, 100], "nice": false}, "axis": {"values": [0, 95.2], "labelExpr": "datum.value < 50 ? ['CD31+', '(Endo)'] : 'EPCAM+'", "labelAlign": {"condition": {"test": "datum.value < 50", "value": "center"}, "value": "right"}, "labelOffset": 0.5, "title": ["CCS3", "Gene Set"], "titleX": 134.5}}, "y": {"field": "es", "type": "quantitative", "scale": {"domain": [-0.0868, 0.672], "nice": false, "zero": false}, "axis": {"title": "Enrichment Score", "tickCount": 20, "values": [0, 0.1, 0.2, 0.3, 0.4, 0.5, 0.6], "format": ".1f"}}}},
  {"data": {"values": [{"t": "NES = 2.1\nP < 10⁻³"}]}, "mark": "text", "encoding": {"text": {"field": "t"}, "x": {"datum": 6.9}, "y": {"datum": 0.375}}}
]},
{"width": 298, "height": 148, "layer": [
  {"data": {"values": [{}]}, "mark": {"type": "rect", "fill": "transparent", "stroke": "#d6d6d6", "strokeWidth": 1}, "encoding": {"x": {"datum": 0}, "x2": {"datum": 100}, "y": {"datum": -0.14}, "y2": {"datum": 0.227}}},
  {"data": {"values": [{}]}, "mark": {"type": "rule", "color": "#b3b3b3", "strokeWidth": 1, "strokeDash": [2, 2]}, "encoding": {"y": {"datum": 0}}},
  {"data": {"values": [{}]}, "mark": {"type": "rule", "color": "#8c8c8c", "strokeWidth": 1}, "encoding": {"x": {"datum": 0}, "y": {"datum": -0.14}, "y2": {"datum": 0.227}}},
  {"data": {"name": "h33"}, "mark": "rule", "encoding": {"x": {"field": "r", "type": "quantitative"}, "y": {"datum": -0.1455}, "y2": {"datum": -0.1783}}},
  {"data": {"name": "c33"}, "mark": "line", "encoding": {"x": {"field": "r", "type": "quantitative", "scale": {"domain": [0, 100], "nice": false}, "axis": {"values": [0, 97.5], "labelExpr": "datum.value < 50 ? ['CD45+', '(Leuco)'] : 'EPCAM+'", "labelAlign": {"condition": {"test": "datum.value < 50", "value": "center"}, "value": "right"}, "labelOffset": -10, "title": ["CCS3", "Gene Set"], "titleX": 128}}, "y": {"field": "es", "type": "quantitative", "scale": {"domain": [-0.1783, 0.227], "nice": false, "zero": false}, "axis": {"title": "Enrichment Score", "tickCount": 20, "values": [-0.1, -0.05, 0, 0.05, 0.1, 0.15, 0.2], "format": ".2f"}}}},
  {"data": {"values": [{"t": "NES = 0.7\nP = 0.94"}]}, "mark": "text", "encoding": {"text": {"field": "t"}, "x": {"datum": 5.7}, "y": {"datum": -0.014}}}
]},
{"width": 67.5, "height": 148, "data": {"values": [{"t": "CCMS\n2"}]}, "mark": {"type": "text", "fontSize": 34, "lineHeight": 43, "align": "center", "baseline": "middle", "dx": 28, "dy": -2}, "encoding": {"text": {"field": "t"}}},
{"width": 298, "height": 148, "layer": [
  {"data": {"values": [{}]}, "mark": {"type": "rect", "fill": "transparent", "stroke": "#d6d6d6", "strokeWidth": 1}, "encoding": {"x": {"datum": 0}, "x2": {"datum": 100}, "y": {"datum": -0.05}, "y2": {"datum": 0.53}}},
  {"data": {"values": [{}]}, "mark": {"type": "rule", "color": "#b3b3b3", "strokeWidth": 1, "strokeDash": [2, 2]}, "encoding": {"y": {"datum": 0}}},
  {"data": {"values": [{}]}, "mark": {"type": "rule", "color": "#8c8c8c", "strokeWidth": 1}, "encoding": {"x": {"datum": 0}, "y": {"datum": -0.05}, "y2": {"datum": 0.53}}},
  {"data": {"name": "h41"}, "mark": "rule", "encoding": {"x": {"field": "r", "type": "quantitative"}, "y": {"datum": -0.0587}, "y2": {"datum": -0.1106}}},
  {"data": {"name": "c41"}, "mark": "line", "encoding": {"x": {"field": "r", "type": "quantitative", "scale": {"domain": [0, 100], "nice": false}, "axis": {"values": [0, 99.3], "labelExpr": "datum.value < 50 ? ['FAP+', '(Fibro)'] : 'EPCAM+'", "labelAlign": {"condition": {"test": "datum.value < 50", "value": "center"}, "value": "right"}, "labelOffset": 8, "title": ["CCMS2", "Gene Set"], "titleX": 138}}, "y": {"field": "es", "type": "quantitative", "scale": {"domain": [-0.1106, 0.53], "nice": false, "zero": false}, "axis": {"title": "Enrichment Score", "tickCount": 20, "values": [-0.05, 0, 0.05, 0.1, 0.15, 0.2, 0.25, 0.3, 0.35, 0.4, 0.45, 0.5], "format": ".2f"}}}},
  {"data": {"values": [{"t": "NES = 1.9\nP < 10⁻⁴"}]}, "mark": "text", "encoding": {"text": {"field": "t"}, "x": {"datum": 12.8}, "y": {"datum": 0.24}}}
]},
{"width": 298, "height": 148, "layer": [
  {"data": {"values": [{}]}, "mark": {"type": "rect", "fill": "transparent", "stroke": "#d6d6d6", "strokeWidth": 1}, "encoding": {"x": {"datum": 0}, "x2": {"datum": 100}, "y": {"datum": -0.056}, "y2": {"datum": 0.565}}},
  {"data": {"values": [{}]}, "mark": {"type": "rule", "color": "#b3b3b3", "strokeWidth": 1, "strokeDash": [2, 2]}, "encoding": {"y": {"datum": 0}}},
  {"data": {"values": [{}]}, "mark": {"type": "rule", "color": "#8c8c8c", "strokeWidth": 1}, "encoding": {"x": {"datum": 0}, "y": {"datum": -0.056}, "y2": {"datum": 0.565}}},
  {"data": {"name": "h42"}, "mark": "rule", "encoding": {"x": {"field": "r", "type": "quantitative"}, "y": {"datum": -0.0653}, "y2": {"datum": -0.1209}}},
  {"data": {"name": "c42"}, "mark": "line", "encoding": {"x": {"field": "r", "type": "quantitative", "scale": {"domain": [0, 100], "nice": false}, "axis": {"values": [0, 95.2], "labelExpr": "datum.value < 50 ? ['CD31+', '(Endo)'] : 'EPCAM+'", "labelAlign": {"condition": {"test": "datum.value < 50", "value": "center"}, "value": "right"}, "labelOffset": 13.5, "title": ["CCMS2", "Gene Set"], "titleX": 146.5}}, "y": {"field": "es", "type": "quantitative", "scale": {"domain": [-0.1209, 0.565], "nice": false, "zero": false}, "axis": {"title": "Enrichment Score", "tickCount": 20, "values": [0, 0.1, 0.2, 0.3, 0.4, 0.5], "format": ".1f"}}}},
  {"data": {"values": [{"t": "NES = 1.9\nP < 10⁻³"}]}, "mark": "text", "encoding": {"text": {"field": "t"}, "x": {"datum": 14.6}, "y": {"datum": 0.273}}}
]},
{"width": 298, "height": 148, "layer": [
  {"data": {"values": [{}]}, "mark": {"type": "rect", "fill": "transparent", "stroke": "#d6d6d6", "strokeWidth": 1}, "encoding": {"x": {"datum": 0}, "x2": {"datum": 100}, "y": {"datum": -0.058}, "y2": {"datum": 0.647}}},
  {"data": {"values": [{}]}, "mark": {"type": "rule", "color": "#b3b3b3", "strokeWidth": 1, "strokeDash": [2, 2]}, "encoding": {"y": {"datum": 0}}},
  {"data": {"values": [{}]}, "mark": {"type": "rule", "color": "#8c8c8c", "strokeWidth": 1}, "encoding": {"x": {"datum": 0}, "y": {"datum": -0.058}, "y2": {"datum": 0.647}}},
  {"data": {"name": "h43"}, "mark": "rule", "encoding": {"x": {"field": "r", "type": "quantitative"}, "y": {"datum": -0.0685}, "y2": {"datum": -0.1317}}},
  {"data": {"name": "c43"}, "mark": "line", "encoding": {"x": {"field": "r", "type": "quantitative", "scale": {"domain": [0, 100], "nice": false}, "axis": {"values": [0, 97.5], "labelExpr": "datum.value < 50 ? ['CD45+', '(Leuco)'] : 'EPCAM+'", "labelAlign": {"condition": {"test": "datum.value < 50", "value": "center"}, "value": "right"}, "labelOffset": 3, "title": ["CCMS2", "Gene Set"], "titleX": 139}}, "y": {"field": "es", "type": "quantitative", "scale": {"domain": [-0.1317, 0.647], "nice": false, "zero": false}, "axis": {"title": "Enrichment Score", "tickCount": 20, "values": [0, 0.1, 0.2, 0.3, 0.4, 0.5, 0.6], "format": ".1f"}}}},
  {"data": {"values": [{"t": "NES = 2.2\nP < 10⁻⁷"}]}, "mark": "text", "encoding": {"text": {"field": "t"}, "x": {"datum": 10.4}, "y": {"datum": 0.31}}}
]},
{"width": 67.5, "height": 148, "data": {"values": [{"t": "CRCA\n1"}]}, "mark": {"type": "text", "fontSize": 34, "lineHeight": 43, "align": "center", "baseline": "middle", "dx": 28, "dy": -13}, "encoding": {"text": {"field": "t"}}},
{"width": 298, "height": 148, "layer": [
  {"data": {"values": [{}]}, "mark": {"type": "rect", "fill": "transparent", "stroke": "#d6d6d6", "strokeWidth": 1}, "encoding": {"x": {"datum": 0}, "x2": {"datum": 100}, "y": {"datum": -0.042}, "y2": {"datum": 0.469}}},
  {"data": {"values": [{}]}, "mark": {"type": "rule", "color": "#b3b3b3", "strokeWidth": 1, "strokeDash": [2, 2]}, "encoding": {"y": {"datum": 0}}},
  {"data": {"values": [{}]}, "mark": {"type": "rule", "color": "#8c8c8c", "strokeWidth": 1}, "encoding": {"x": {"datum": 0}, "y": {"datum": -0.042}, "y2": {"datum": 0.469}}},
  {"data": {"name": "h51"}, "mark": "rule", "encoding": {"x": {"field": "r", "type": "quantitative"}, "y": {"datum": -0.0496}, "y2": {"datum": -0.0954}}},
  {"data": {"name": "c51"}, "mark": "line", "encoding": {"x": {"field": "r", "type": "quantitative", "scale": {"domain": [0, 100], "nice": false}, "axis": {"values": [0, 99.3], "labelExpr": "datum.value < 50 ? ['FAP+', '(Fibro)'] : 'EPCAM+'", "labelAlign": {"condition": {"test": "datum.value < 50", "value": "center"}, "value": "right"}, "labelOffset": 21, "title": ["CRCA1", "Gene Set"], "titleX": 155}}, "y": {"field": "es", "type": "quantitative", "scale": {"domain": [-0.0954, 0.469], "nice": false, "zero": false}, "axis": {"title": "Enrichment Score", "tickCount": 20, "values": [0, 0.05, 0.1, 0.15, 0.2, 0.25, 0.3, 0.35, 0.4, 0.45], "format": ".2f"}}}},
  {"data": {"values": [{"t": "NES = 1.9\nP < 10⁻³"}]}, "mark": "text", "encoding": {"text": {"field": "t"}, "x": {"datum": 9.4}, "y": {"datum": 0.217}}}
]},
{"width": 298, "height": 148, "layer": [
  {"data": {"values": [{}]}, "mark": {"type": "rect", "fill": "transparent", "stroke": "#d6d6d6", "strokeWidth": 1}, "encoding": {"x": {"datum": 0}, "x2": {"datum": 100}, "y": {"datum": -0.04}, "y2": {"datum": 0.559}}},
  {"data": {"values": [{}]}, "mark": {"type": "rule", "color": "#b3b3b3", "strokeWidth": 1, "strokeDash": [2, 2]}, "encoding": {"y": {"datum": 0}}},
  {"data": {"values": [{}]}, "mark": {"type": "rule", "color": "#8c8c8c", "strokeWidth": 1}, "encoding": {"x": {"datum": 0}, "y": {"datum": -0.04}, "y2": {"datum": 0.559}}},
  {"data": {"name": "h52"}, "mark": "rule", "encoding": {"x": {"field": "r", "type": "quantitative"}, "y": {"datum": -0.0489}, "y2": {"datum": -0.1026}}},
  {"data": {"name": "c52"}, "mark": "line", "encoding": {"x": {"field": "r", "type": "quantitative", "scale": {"domain": [0, 100], "nice": false}, "axis": {"values": [0, 95.2], "labelExpr": "datum.value < 50 ? ['CD31+', '(Endo)'] : 'EPCAM+'", "labelAlign": {"condition": {"test": "datum.value < 50", "value": "center"}, "value": "right"}, "labelOffset": 26.5, "title": ["CRCA1", "Gene Set"], "titleX": 162.5}}, "y": {"field": "es", "type": "quantitative", "scale": {"domain": [-0.1026, 0.559], "nice": false, "zero": false}, "axis": {"title": "Enrichment Score", "tickCount": 20, "values": [0, 0.05, 0.1, 0.15, 0.2, 0.25, 0.3, 0.35, 0.4, 0.45, 0.5, 0.55], "format": ".2f"}}}},
  {"data": {"values": [{"t": "NES = 2.1\nP < 10⁻³"}]}, "mark": "text", "encoding": {"text": {"field": "t"}, "x": {"datum": 12.9}, "y": {"datum": 0.273}}}
]},
{"width": 298, "height": 148, "layer": [
  {"data": {"values": [{}]}, "mark": {"type": "rect", "fill": "transparent", "stroke": "#d6d6d6", "strokeWidth": 1}, "encoding": {"x": {"datum": 0}, "x2": {"datum": 100}, "y": {"datum": -0.044}, "y2": {"datum": 0.806}}},
  {"data": {"values": [{}]}, "mark": {"type": "rule", "color": "#b3b3b3", "strokeWidth": 1, "strokeDash": [2, 2]}, "encoding": {"y": {"datum": 0}}},
  {"data": {"values": [{}]}, "mark": {"type": "rule", "color": "#8c8c8c", "strokeWidth": 1}, "encoding": {"x": {"datum": 0}, "y": {"datum": -0.044}, "y2": {"datum": 0.806}}},
  {"data": {"name": "h53"}, "mark": "rule", "encoding": {"x": {"field": "r", "type": "quantitative"}, "y": {"datum": -0.0567}, "y2": {"datum": -0.1328}}},
  {"data": {"name": "c53"}, "mark": "line", "encoding": {"x": {"field": "r", "type": "quantitative", "scale": {"domain": [0, 100], "nice": false}, "axis": {"values": [0, 97.5], "labelExpr": "datum.value < 50 ? ['CD45+', '(Leuco)'] : 'EPCAM+'", "labelAlign": {"condition": {"test": "datum.value < 50", "value": "center"}, "value": "right"}, "labelOffset": 16, "title": ["CRCA1", "Gene Set"], "titleX": 156}}, "y": {"field": "es", "type": "quantitative", "scale": {"domain": [-0.1328, 0.806], "nice": false, "zero": false}, "axis": {"title": "Enrichment Score", "tickCount": 20, "values": [0, 0.1, 0.2, 0.3, 0.4, 0.5, 0.6, 0.7, 0.8], "format": ".1f"}}}},
  {"data": {"values": [{"t": "NES = 3.1\nP < 10⁻⁷"}]}, "mark": "text", "encoding": {"text": {"field": "t"}, "x": {"datum": 9.7}, "y": {"datum": 0.406}}}
]}
]
}
